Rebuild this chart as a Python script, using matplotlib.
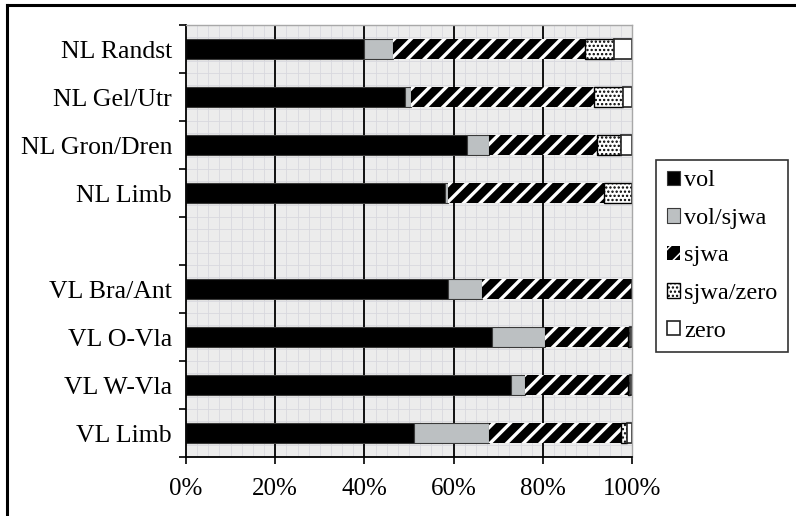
import numpy as np
import matplotlib
matplotlib.use("Agg")
import matplotlib.pyplot as plt
from matplotlib.lines import Line2D

# regions, top to bottom; a gap separates the NL and VL groups
regions = ["NL Randst", "NL Gel/Utr", "NL Gron/Dren", "NL Limb",
           "VL Bra/Ant", "VL O-Vla", "VL W-Vla", "VL Limb"]

# share of each variant per region (percent)
vol = [40.0, 49.0, 63.0, 58.1, 58.7, 68.7, 72.8, 51.2]
vol_sjwa = [6.5, 1.5, 5.0, 0.7, 7.6, 11.9, 3.2, 16.8]
sjwa = [43.0, 41.0, 24.2, 34.9, 33.7, 18.4, 23.2, 29.5]
sjwa_zero = [6.5, 6.5, 5.4, 6.3, 0.0, 0.6, 0.4, 1.3]
zero = [4.0, 2.0, 2.4, 0.0, 0.0, 0.4, 0.4, 1.2]

series_names = ["vol", "vol/sjwa", "sjwa", "sjwa/zero", "zero"]
xticks = [0, 20, 40, 60, 80, 100]

plt.rcParams["font.family"] = ["Liberation Serif", "DejaVu Serif"]

fig = plt.figure(figsize=(7.96, 5.16), dpi=100)
ax = fig.add_axes([186 / 796, 1 - 457 / 516, 446 / 796, 432 / 516])
ax.set_facecolor("#ececec")

# row positions with an empty slot after the NL rows
ypos = np.array([i if i < 4 else i + 1 for i in range(len(regions))])
nrows = ypos.max() + 1

# background pattern grid
for gx in np.arange(2.5, 100, 2.5):
    ax.axvline(gx, color="#d8d8de", lw=0.6, zorder=0)
for gy in np.arange(-0.5, nrows - 0.5, 0.25):
    ax.axhline(gy, color="#d8d8de", lw=0.6, zorder=0)
for gx in xticks[1:-1]:
    ax.axvline(gx, color="black", lw=1.3, zorder=0.5)

styles = [
    dict(color="black", edgecolor="#3a3a3a", linewidth=0.8),
    dict(color="#bcc0c2", edgecolor="#3a3a3a", linewidth=0.8),
    dict(facecolor="black", edgecolor="white", linewidth=0, hatch="//"),
    dict(facecolor="white", edgecolor="black", linewidth=1.0, hatch="...."),
    dict(facecolor="white", edgecolor="#222222", linewidth=1.2),
]

height = 0.42
left = np.zeros(len(regions))
for name, values, style in zip(series_names,
                               [vol, vol_sjwa, sjwa, sjwa_zero, zero], styles):
    plt.rcParams["hatch.linewidth"] = 2.4 if name == "sjwa" else 1.1
    values = np.array(values)
    ax.barh(ypos, values, height=height, left=left, label=name,
            zorder=2, **style)
    left += values

ax.set_xlim(0, 100)
ax.set_ylim(nrows - 0.5, -0.5)

ax.set_xticks(xticks)
ax.set_xticklabels([f"{t}%" for t in xticks])
ax.tick_params(axis="x", length=5, width=1.2, pad=10, labelsize=18)

ax.set_yticks(ypos)
ax.set_yticklabels(regions)
ax.set_yticks(np.arange(-0.5, nrows, 1.0), minor=True)
ax.tick_params(axis="y", which="major", length=0, pad=10, labelsize=18.5)
ax.tick_params(axis="y", which="minor", length=5, width=1.2)

for side in ["left", "bottom"]:
    ax.spines[side].set_color("black")
    ax.spines[side].set_linewidth(1.3)
for side in ["top", "right"]:
    ax.spines[side].set_color("#a8a8a8")
    ax.spines[side].set_linewidth(1.0)

leg = fig.legend(loc="center left", bbox_to_anchor=(656 / 796, 1 - 256 / 516),
                 bbox_transform=fig.transFigure, fontsize=17.5, frameon=True,
                 fancybox=False, edgecolor="black", borderaxespad=0,
                 handlelength=0.55, handleheight=0.55, handletextpad=0.15,
                 labelspacing=0.68, borderpad=0.45)
leg.get_frame().set_linewidth(1.2)

# outer frame along the left and top edges
fig.add_artist(Line2D([6.5 / 796, 6.5 / 796], [0, 1 - 5 / 516],
                      color="black", lw=2.2, transform=fig.transFigure))
fig.add_artist(Line2D([6.5 / 796, 1], [1 - 5 / 516, 1 - 5 / 516],
                      color="black", lw=2.2, transform=fig.transFigure))

fig.savefig("out.png", dpi=100)
